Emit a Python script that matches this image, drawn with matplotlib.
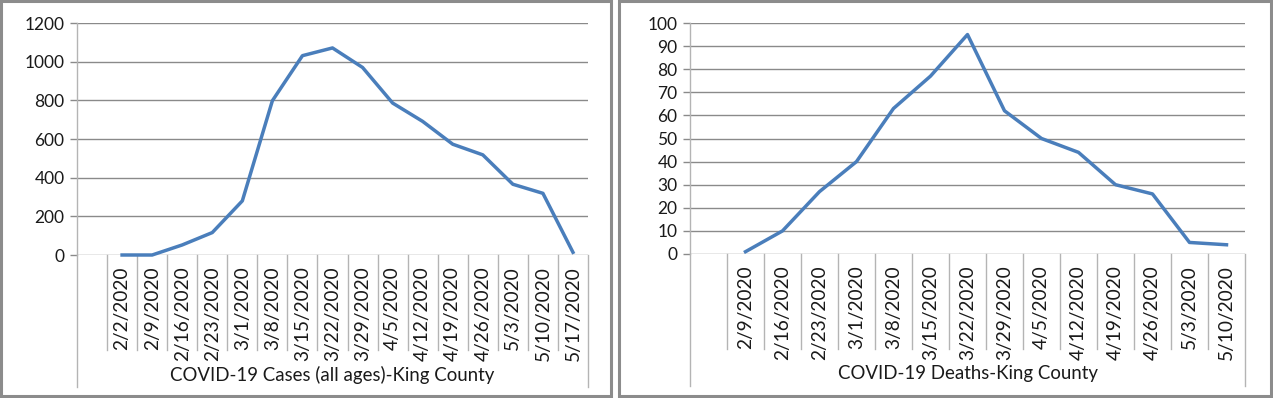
import numpy as np
import matplotlib
matplotlib.use("Agg")
import matplotlib.pyplot as plt
from matplotlib.patches import Rectangle
import matplotlib.transforms as mtransforms

plt.rcParams['font.family'] = ['Lato', 'DejaVu Sans']

# cases by week
case_dates = ['2/2/2020', '2/9/2020', '2/16/2020', '2/23/2020', '3/1/2020', '3/8/2020',
              '3/15/2020', '3/22/2020', '3/29/2020', '4/5/2020', '4/12/2020', '4/19/2020',
              '4/26/2020', '5/3/2020', '5/10/2020', '5/17/2020']
cases = [0, 0, 52, 116, 280, 798, 1031, 1071, 970, 786, 691, 573, 518, 366, 319, 14]

# deaths by week
death_dates = ['2/9/2020', '2/16/2020', '2/23/2020', '3/1/2020', '3/8/2020', '3/15/2020',
               '3/22/2020', '3/29/2020', '4/5/2020', '4/12/2020', '4/19/2020', '4/26/2020',
               '5/3/2020', '5/10/2020']
deaths = [1, 10, 27, 40, 63, 77, 95, 62, 50, 44, 30, 26, 5, 4]

W, H = 1273, 398
fig = plt.figure(figsize=(W / 100, H / 100), dpi=100)

line_col = '#4A7EBB'
grid_col = '#8a8a8a'
div_col = '#b4b4b4'
text_col = '#1a1a1a'


def panel(box, plot, dates, vals, ymax, ystep, title):
    # outer border of the chart
    bx0, by0, bx1, by1 = box
    fig.patches.append(Rectangle((bx0 / W, 1 - by1 / H), (bx1 - bx0) / W, (by1 - by0) / H,
                                 transform=fig.transFigure, fill=False,
                                 edgecolor='#8c8c8c', linewidth=2.2))
    x0, y0, x1, y1 = plot
    ax = fig.add_axes([x0 / W, 1 - y1 / H, (x1 - x0) / W, (y1 - y0) / H])
    n = len(dates)
    xs = np.arange(n) + 1.5
    ax.plot(xs, vals, color=line_col, linewidth=2.5, solid_joinstyle='round',
            clip_on=False, zorder=3)
    ax.set_xlim(0, n + 1)
    ax.set_ylim(0, ymax)
    ax.set_yticks(np.arange(0, ymax + 1, ystep))
    ax.yaxis.grid(True, color=grid_col, linewidth=1.0)
    ax.set_axisbelow(True)
    ax.set_xticks([])
    for s in ['top', 'right', 'bottom']:
        ax.spines[s].set_visible(False)
    ax.spines['left'].set_color(div_col)
    ax.spines['left'].set_linewidth(1.0)
    ax.tick_params(axis='y', length=5, width=1.0, color=grid_col, labelsize=12.5,
                   labelcolor=text_col, pad=4)
    ph = y1 - y0
    tr = mtransforms.blended_transform_factory(ax.transData, ax.transAxes)
    # category dividers
    for b in range(1, n + 1):
        ax.plot([b, b], [0, -95 / ph], color=div_col, linewidth=1.0,
                transform=tr, clip_on=False)
    # long outer lines
    for b in [0, n + 1]:
        ax.plot([b, b], [0, -132 / ph], color=div_col, linewidth=1.0,
                transform=tr, clip_on=False)
    for x, d in zip(xs, dates):
        ax.text(x, -11 / ph, d, transform=tr, rotation=90, ha='center', va='top',
                fontsize=13.8, color=text_col)
    ax.text(0.5, -120 / ph, title, transform=ax.transAxes, ha='center',
            va='center', fontsize=13.4, color=text_col)
    return ax


panel((1, 1, 611, 396), (77, 23, 588, 255), case_dates, cases, 1200, 200,
      'COVID-19 Cases (all ages)-King County')
panel((619, 1, 1271, 396), (690, 23, 1245, 254), death_dates, deaths, 100, 10,
      'COVID-19 Deaths-King County')

fig.savefig('out.png', dpi=100)
